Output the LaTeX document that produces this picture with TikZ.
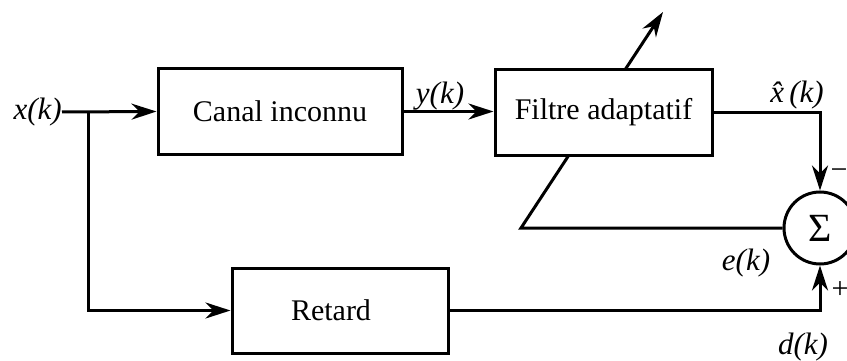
\documentclass[tikz,border=0pt]{standalone}
\usepackage{fontspec}
\setmainfont{Liberation Serif}
\usetikzlibrary{arrows.meta}
\begin{document}
\begin{tikzpicture}[x=1pt,y=-1pt,
  every node/.style={font=\fontsize{30}{34}\selectfont, inner sep=0pt},
  blk/.style={draw, line width=3pt, fill=white, minimum height=85pt},
  wire/.style={line width=3pt},
  arr/.style={wire, -{Stealth[length=25pt,width=16pt,inset=8pt]}},
  lbl/.style={font=\fontsize{31}{34}\selectfont\itshape}]
\useasboundingbox (0,0) rectangle (847,361);
\node[draw, circle, line width=3pt, fill=white, minimum size=72pt, font=\fontsize{40}{44}\selectfont] (sum) at (820,228) {Σ};
\coordinate (fb) at (521,228);
\coordinate (tip) at (663,12);
\draw[arr] (sum.west) -- (fb) -- (tip);
\node[blk, minimum width=244pt] (canal) at (280,111.5) {Canal inconnu};
\node[blk, minimum width=217pt] (filtre) at (603.5,112.5) {Filtre adaptatif};
\node[blk, minimum width=216pt] (retard) at (340,310.5) {\hspace*{-18pt}Retard};
\node[lbl, anchor=east] (xk) at (62,112) {x(k)};
\coordinate (J) at (88,112);
\draw[arr] (xk.east) -- (canal.west);
\draw[arr] (J) |- (retard.west);
\draw[arr] (canal.east) -- (filtre.west |- canal.east);
\draw[arr] (filtre.east) -| (sum.north);
\draw[arr] (retard.east) -| (sum.south);
\node[lbl] (yk) at (440,96) {y(k)};
\node[lbl] (xh) at (797,95) {\^{x}\,(k)};
\node (minus) at (839,174) {−};
\node (plus) at (840,290) {+};
\node[lbl] (ek) at (746,263) {e(k)};
\node[lbl] (dk) at (803,347) {d(k)};
\end{tikzpicture}
\end{document}
